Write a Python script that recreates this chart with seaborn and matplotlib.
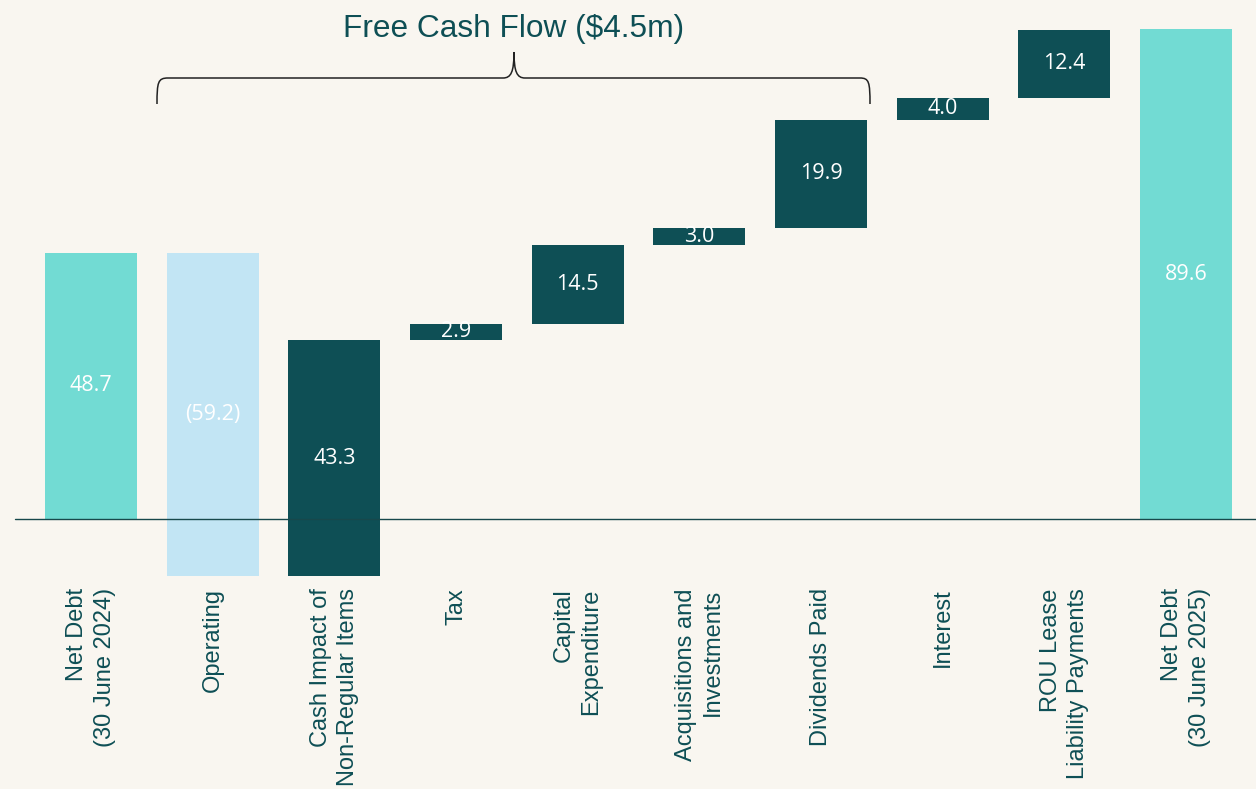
import matplotlib
matplotlib.use("Agg")
import matplotlib.pyplot as plt
from matplotlib.path import Path
from matplotlib.patches import PathPatch
import numpy as np
import pandas as pd
import seaborn as sns

sns.set_style("white")
plt.rcParams['font.family'] = ['Liberation Sans', 'DejaVu Sans']

BG = "#F9F6F0"
TEAL = "#72DBD3"
LIGHT_BLUE = "#C2E5F4"
DARK = "#0E4F55"

categories = [
    "Net Debt\n(30 June 2024)",
    "Operating",
    "Cash Impact of\nNon-Regular Items",
    "Tax",
    "Capital\nExpenditure",
    "Acquisitions and\nInvestments",
    "Dividends Paid",
    "Interest",
    "ROU Lease\nLiability Payments",
    "Net Debt\n(30 June 2025)",
]
opening = 48.7
movements = [-59.2, 43.3, 2.9, 14.5, 3.0, 19.9, 4.0, 12.4]
closing = 89.6
value_labels = ["48.7", "(59.2)", "43.3", "2.9", "14.5", "3.0", "19.9", "4.0", "12.4", "89.6"]
bar_colors = [TEAL, LIGHT_BLUE] + [DARK] * 7 + [TEAL]

# waterfall: bottoms and heights
bottoms = [0.0]
heights = [opening]
level = opening
for m in movements:
    new_level = level + m
    bottoms.append(min(level, new_level))
    heights.append(abs(m))
    level = new_level
bottoms.append(0.0)
heights.append(closing)

df = pd.DataFrame({"step": categories, "height": heights})

fig = plt.figure(figsize=(12.56, 7.89), dpi=100, facecolor=BG)
ax = fig.add_axes([0, 1 - 580 / 789, 1, 580 / 789])
ax.set_facecolor(BG)

sns.barplot(data=df, x="step", y="height", order=categories, bottom=np.array(bottoms),
            color=DARK, saturation=1, width=0.755, ax=ax, zorder=2)
for patch, c in zip(ax.patches, bar_colors):
    patch.set_facecolor(c)
    patch.set_edgecolor("none")

for i, (b, h, lab) in enumerate(zip(bottoms, heights, value_labels)):
    ax.text(i, b + h / 2, lab, ha="center", va="center", color="white",
            fontsize=15.5, family=["Open Sans", "DejaVu Sans"], zorder=4)

ax.axhline(0, xmin=15 / 1256, xmax=1, color="#17484B", linewidth=1.0, zorder=3)

px = 121.67
ax.set_xlim(-91 / px, (1256 - 91) / px)
ax.set_ylim(-61 / 5.465, 519 / 5.465)

ax.set_xticks(range(len(categories)))
ax.set_xticklabels(categories, rotation=90, ha="center", va="top",
                   multialignment="right", fontsize=17, color=DARK, linespacing=1.3)
ax.tick_params(axis="x", length=0, pad=6)
ax.set_yticks([])
ax.set_xlabel("")
ax.set_ylabel("")
sns.despine(ax=ax, left=True, bottom=True)

# title and brace above the free cash flow steps
fig.text(514 / 1256, 1 - 29 / 789, "Free Cash Flow ($4.5m)", ha="center", va="center",
         fontsize=22.8, color=DARK)


def f(x, y):
    return (x / 1256, 1 - y / 789)


verts = [f(157, 104), f(157, 82), f(158, 78), f(168, 78),
         f(503, 78),
         f(511, 78), f(514, 72), f(514, 52),
         f(514, 72), f(517, 78), f(525, 78),
         f(860, 78),
         f(869, 78), f(870, 82), f(870, 104)]
codes = [Path.MOVETO, Path.CURVE4, Path.CURVE4, Path.CURVE4,
         Path.LINETO,
         Path.CURVE4, Path.CURVE4, Path.CURVE4,
         Path.CURVE4, Path.CURVE4, Path.CURVE4,
         Path.LINETO,
         Path.CURVE4, Path.CURVE4, Path.CURVE4]
brace = PathPatch(Path(verts, codes), facecolor="none", edgecolor="#222222",
                  linewidth=1.1, transform=fig.transFigure)
fig.patches.append(brace)

fig.savefig("out.png", dpi=100, facecolor=BG)
